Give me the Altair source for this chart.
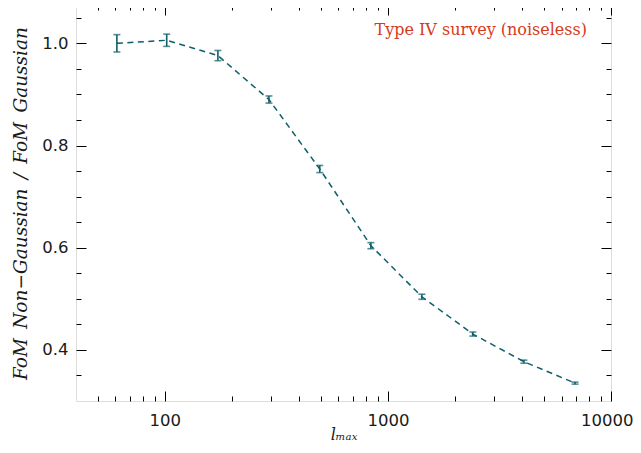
import altair as alt
import pandas as pd

# ---- data ----
ell_max = [61, 102, 173, 293, 495, 839, 1420, 2404, 4070, 6900]
ratio = [1.000, 1.006, 0.976, 0.890, 0.754, 0.604, 0.504, 0.431, 0.377, 0.335]
err = [0.017, 0.012, 0.010, 0.007, 0.007, 0.006, 0.005, 0.004, 0.003, 0.002]

x_major = [100, 1000, 10000]
x_minor = [50, 60, 70, 80, 90, 200, 300, 400, 500, 600, 700, 800, 900,
           2000, 3000, 4000, 5000, 6000, 7000, 8000, 9000]
y_major = [0.4, 0.6, 0.8, 1.0]
y_minor = [0.35, 0.45, 0.5, 0.55, 0.65, 0.7, 0.75, 0.85, 0.9, 0.95, 1.05]

x_domain = [40, 10000]
y_domain = [0.3, 1.075]

note = "Type IV survey (noiseless)"
y_title = "FoM\u2002Non\u2212Gaussian\u2002/\u2002FoM\u2002Gaussian"
x_title = "l\u2098\u2090\u2093"

df = pd.DataFrame({"l": ell_max, "r": ratio, "e": err})
df["lo"] = df["r"] - df["e"]
df["hi"] = df["r"] + df["e"]

TEAL = "#0e5f6b"
RED = "#d53a1c"

xscale = alt.Scale(type="log", domain=x_domain, nice=False)
yscale = alt.Scale(domain=y_domain, zero=False, nice=False)


def ax(orient, values, major, title=None, **kw):
    size = 10 if major else 5
    base = dict(
        orient=orient,
        values=values,
        tickSize=size,
        offset=-size,
        domain=False,
        grid=False,
        tickColor="black",
        tickWidth=1,
        labels=False,
        title=title,
    )
    base.update(kw)
    return alt.Axis(**base)


label_kw = dict(labels=True, labelFont="DejaVu Sans", labelFontSize=16.5,
                labelColor="#1a1a1a", labelOverlap=False)

base = alt.Chart(df)

line = base.mark_line(color=TEAL, strokeDash=[6, 4.5], strokeWidth=1.5).encode(
    x=alt.X("l:Q", scale=xscale,
            axis=ax("bottom", x_major, True, title=x_title,
                    labelPadding=11, labelExpr="format(datum.value, 'd')",
                    labelFlush=True, labelFlushOffset=22,
                    titleFont="DejaVu Serif", titleFontStyle="italic",
                    titleFontWeight="normal", titleFontSize=16,
                    titleColor="#1a1a1a", titlePadding=-2, **label_kw)),
    y=alt.Y("r:Q", scale=yscale,
            axis=ax("left", y_major, True, title=y_title,
                    labelPadding=8, format=".1f", labelFlush=False,
                    titleFont="DejaVu Serif", titleFontStyle="italic",
                    titleFontWeight="normal", titleFontSize=18.5,
                    titleColor="#1a1a1a", titlePadding=11, **label_kw)),
)

bars = base.mark_rule(color=TEAL, strokeWidth=1.6).encode(
    x=alt.X("l:Q", scale=xscale, axis=ax("bottom", x_minor, False)),
    y=alt.Y("lo:Q", scale=yscale, axis=ax("left", y_minor, False)),
    y2="hi:Q",
)

caps_lo = base.mark_tick(color=TEAL, orient="horizontal", size=7, thickness=1.6).encode(
    x=alt.X("l:Q", scale=xscale, axis=ax("top", x_major, True)),
    y=alt.Y("lo:Q", scale=yscale, axis=ax("right", y_major, True)),
)

caps_hi = base.mark_tick(color=TEAL, orient="horizontal", size=7, thickness=1.6).encode(
    x=alt.X("l:Q", scale=xscale, axis=ax("top", x_minor, False)),
    y=alt.Y("hi:Q", scale=yscale, axis=ax("right", y_minor, False)),
)

text = alt.Chart(pd.DataFrame({"t": [note]})).mark_text(
    color=RED, font="DejaVu Serif", fontSize=16, align="right", baseline="middle"
).encode(text="t:N", x=alt.value(511), y=alt.value(25))

chart = (
    alt.layer(line, bars, caps_lo, caps_hi, text)
    .resolve_axis(x="independent", y="independent")
    .properties(
        width=535,
        height=396,
        autosize=alt.AutoSizeParams(type="none"),
        padding={"left": 68, "top": -3, "right": 22, "bottom": 44},
    )
    .configure_view(stroke="black", strokeWidth=1.5)
    .configure(background="white")
)

chart.save("out.html", embed_options={"renderer": "svg", "actions": False})
